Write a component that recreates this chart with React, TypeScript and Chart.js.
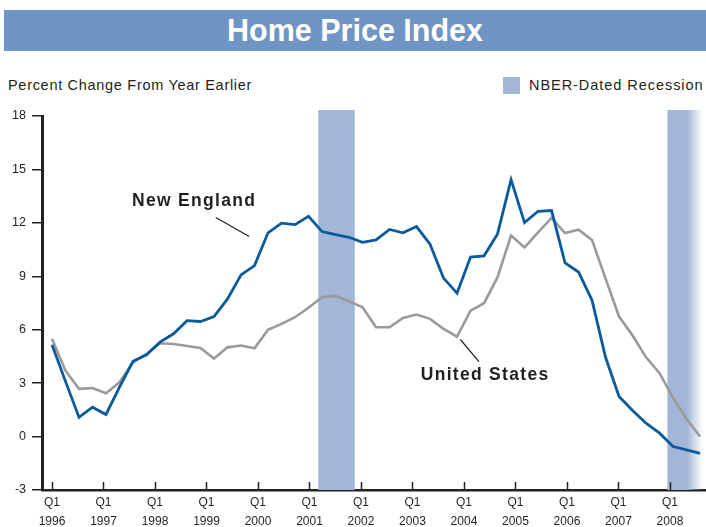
import React, { useEffect, useRef } from "react";
import { Chart, registerables } from "chart.js";
Chart.register(...registerables);

// Quarterly year-over-year % change, starting Q1 1996
const newEngland = [
  5.15, 3.1, 1.08, 1.65, 1.24, 2.77, 4.23, 4.59, 5.3, 5.77, 6.51, 6.46,
  6.74, 7.73, 9.08, 9.6, 11.44, 11.98, 11.9, 12.37, 11.51, 11.34, 11.19, 10.91,
  11.04, 11.63, 11.44, 11.79, 10.8, 8.9, 8.05, 10.08, 10.15, 11.38, 14.43, 12.01,
  12.65, 12.69, 9.75, 9.24, 7.65, 4.45, 2.25, 1.46, 0.75, 0.19, -0.56, -0.75, -0.94,
];
const unitedStates = [
  5.49, 3.7, 2.68, 2.73, 2.43, 3.05, 4.17, 4.64, 5.24, 5.2, 5.09, 4.98,
  4.38, 5.01, 5.11, 4.96, 6.0, 6.33, 6.7, 7.23, 7.82, 7.9, 7.6, 7.26,
  6.14, 6.14, 6.66, 6.85, 6.61, 6.05, 5.61, 7.07, 7.49, 8.95, 11.29, 10.62,
  11.47, 12.28, 11.43, 11.62, 11.04, 8.87, 6.74, 5.67, 4.45, 3.56, 2.17, 0.99, 0.0,
];
const yearTicks = [1996, 1997, 1998, 1999, 2000, 2001, 2002, 2003, 2004, 2005, 2006, 2007, 2008];
const yearTickLabels = ["1996", "1997", "1998", "1999", "2000", "2001", "2002", "2003", "2004", "2005", "2006", "2007", "2008"];
const quarterTickLabel = "Q1";
const yTicks = [-3, 0, 3, 6, 9, 12, 15, 18];

// NBER recessions in year units
const recessionStarts = [2001.17, 2007.95];
const recessionEnds = [2001.88, 2008.64];
const recessionFade = [false, true];

const seriesNames = ["New England", "United States"];
const annotationTextX = [1998.76, 2004.41];
const annotationTextY = [13.2, 3.45];
const leaderFrom = [[1999.18, 12.3], [2003.93, 5.45]];
const leaderTo = [[1999.83, 11.23], [2004.29, 4.21]];

const BLUE = "#0b5a9b";
const GREY = "#9a9a9a";
const REC = "#a4b6d7";
const TITLE_BG = "#7094c4";
const FONT = "'Liberation Sans', Arial, Helvetica, sans-serif";

const recessionPlugin = {
  id: "recessions",
  beforeDatasetsDraw(chart: any) {
    const { ctx, chartArea } = chart;
    const yr = chart.scales.yr;
    ctx.save();
    for (let i = 0; i < recessionStarts.length; i++) {
      const x1 = yr.getPixelForValue(recessionStarts[i]);
      const x2 = Math.min(yr.getPixelForValue(recessionEnds[i]), chartArea.right);
      const top = chartArea.top - 6;
      const bottom = chartArea.bottom;
      if (recessionFade[i]) {
        const g = ctx.createLinearGradient(x1, 0, x2, 0);
        g.addColorStop(0, REC);
        g.addColorStop(0.55, REC);
        g.addColorStop(1, "rgba(164,182,215,0)");
        ctx.fillStyle = g;
      } else {
        ctx.fillStyle = REC;
      }
      ctx.fillRect(x1, top, x2 - x1, bottom - top);
    }
    ctx.restore();
  },
};

const decorPlugin = {
  id: "decor",
  afterDraw(chart: any) {
    const { ctx, chartArea } = chart;
    const yr = chart.scales.yr;
    const y = chart.scales.y;
    ctx.save();
    // inward x ticks
    ctx.strokeStyle = "#222";
    ctx.lineWidth = 1.5;
    for (const t of yearTicks) {
      const px = Math.round(yr.getPixelForValue(t)) + 0.5;
      ctx.beginPath();
      ctx.moveTo(px, chartArea.bottom);
      ctx.lineTo(px, chartArea.bottom - 8);
      ctx.stroke();
    }
    // annotations
    ctx.fillStyle = "#231f20";
    ctx.font = `bold 17.5px ${FONT}`;
    (ctx as any).letterSpacing = "1.3px";
    ctx.textAlign = "center";
    ctx.textBaseline = "middle";
    for (let i = 0; i < seriesNames.length; i++) {
      ctx.fillText(seriesNames[i], yr.getPixelForValue(annotationTextX[i]), y.getPixelForValue(annotationTextY[i]));
      ctx.beginPath();
      ctx.lineWidth = 1.2;
      ctx.strokeStyle = "#231f20";
      ctx.moveTo(yr.getPixelForValue(leaderFrom[i][0]), y.getPixelForValue(leaderFrom[i][1]));
      ctx.lineTo(yr.getPixelForValue(leaderTo[i][0]), y.getPixelForValue(leaderTo[i][1]));
      ctx.stroke();
    }
    ctx.restore();
  },
};

function HomePriceChart() {
  const ref = useRef<HTMLCanvasElement | null>(null);
  useEffect(() => {
    if (!ref.current) return;
    const chart = new Chart(ref.current, {
      type: "line",
      data: {
        datasets: [
          {
            label: seriesNames[0],
            data: newEngland.map((v, i) => ({ x: i, y: v })),
            borderColor: BLUE,
            borderWidth: 2.8,
            pointRadius: 0,
            tension: 0,
            xAxisID: "x",
          },
          {
            label: seriesNames[1],
            data: unitedStates.map((v, i) => ({ x: i, y: v })),
            borderColor: GREY,
            borderWidth: 2.6,
            pointRadius: 0,
            tension: 0,
            xAxisID: "x",
          },
        ],
      },
      options: {
        responsive: false,
        animation: false,
        layout: { padding: { top: 16, right: 0, left: 0, bottom: 0 } },
        plugins: { legend: { display: false }, tooltip: { enabled: false }, title: { display: false } },
        scales: {
          x: { type: "linear", display: false, min: -0.74, max: 48.44 },
          yr: {
            type: "linear",
            position: "bottom",
            min: 1995.806,
            max: 2008.7,
            afterBuildTicks: (s: any) => {
              s.ticks = yearTicks.map((v) => ({ value: v }));
            },
            afterFit: (s: any) => {
              s.height = 37;
            },
            grid: { display: false, drawTicks: false },
            border: { display: true, color: "#222", width: 2.5 },
            ticks: {
              autoSkip: false,
              maxRotation: 0,
              padding: 3,
              color: "#231f20",
              font: { family: FONT, size: 12, lineHeight: 1.6 },
              callback: (_v: any, i: number) => [quarterTickLabel, yearTickLabels[i]],
            },
          },
          y: {
            type: "linear",
            min: -3,
            max: 18,
            afterBuildTicks: (s: any) => {
              s.ticks = yTicks.map((v) => ({ value: v }));
            },
            afterFit: (s: any) => {
              s.width = 42;
            },
            grid: { drawOnChartArea: false, drawTicks: true, tickLength: 10, color: "#222", lineWidth: 1.5 },
            border: { display: true, color: "#222", width: 3 },
            ticks: { padding: 6, color: "#231f20", font: { family: FONT, size: 12.5 } },
          },
        },
      },
      plugins: [recessionPlugin, decorPlugin],
    } as any);
    return () => chart.destroy();
  }, []);
  return <canvas ref={ref} width={706} height={427} style={{ position: "absolute", left: 0, top: 100, width: 706, height: 427 }} />;
}

export default function App() {
  return (
    <div style={{ position: "absolute", left: 0, top: 0, width: 706, height: 527, background: "#fff", fontFamily: FONT, overflow: "hidden" }}>
      <div
        style={{
          position: "absolute",
          left: 4,
          top: 10,
          width: 702,
          height: 41,
          background: TITLE_BG,
          color: "#fff",
          fontWeight: "bold",
          fontSize: 30.5,
          lineHeight: "41px",
          textAlign: "center",
          whiteSpace: "nowrap",
        }}
      >
        Home Price Index
      </div>
      <div style={{ position: "absolute", left: 8, top: 76, fontSize: 14.5, lineHeight: "18px", letterSpacing: "0.7px", color: "#231f20", whiteSpace: "nowrap" }}>
        Percent Change From Year Earlier
      </div>
      <div style={{ position: "absolute", left: 503, top: 77, width: 17, height: 17, background: REC }} />
      <div style={{ position: "absolute", left: 529, top: 76, fontSize: 14.5, lineHeight: "18px", letterSpacing: "0.95px", color: "#231f20", whiteSpace: "nowrap" }}>
        NBER-Dated Recession
      </div>
      <HomePriceChart />
    </div>
  );
}
